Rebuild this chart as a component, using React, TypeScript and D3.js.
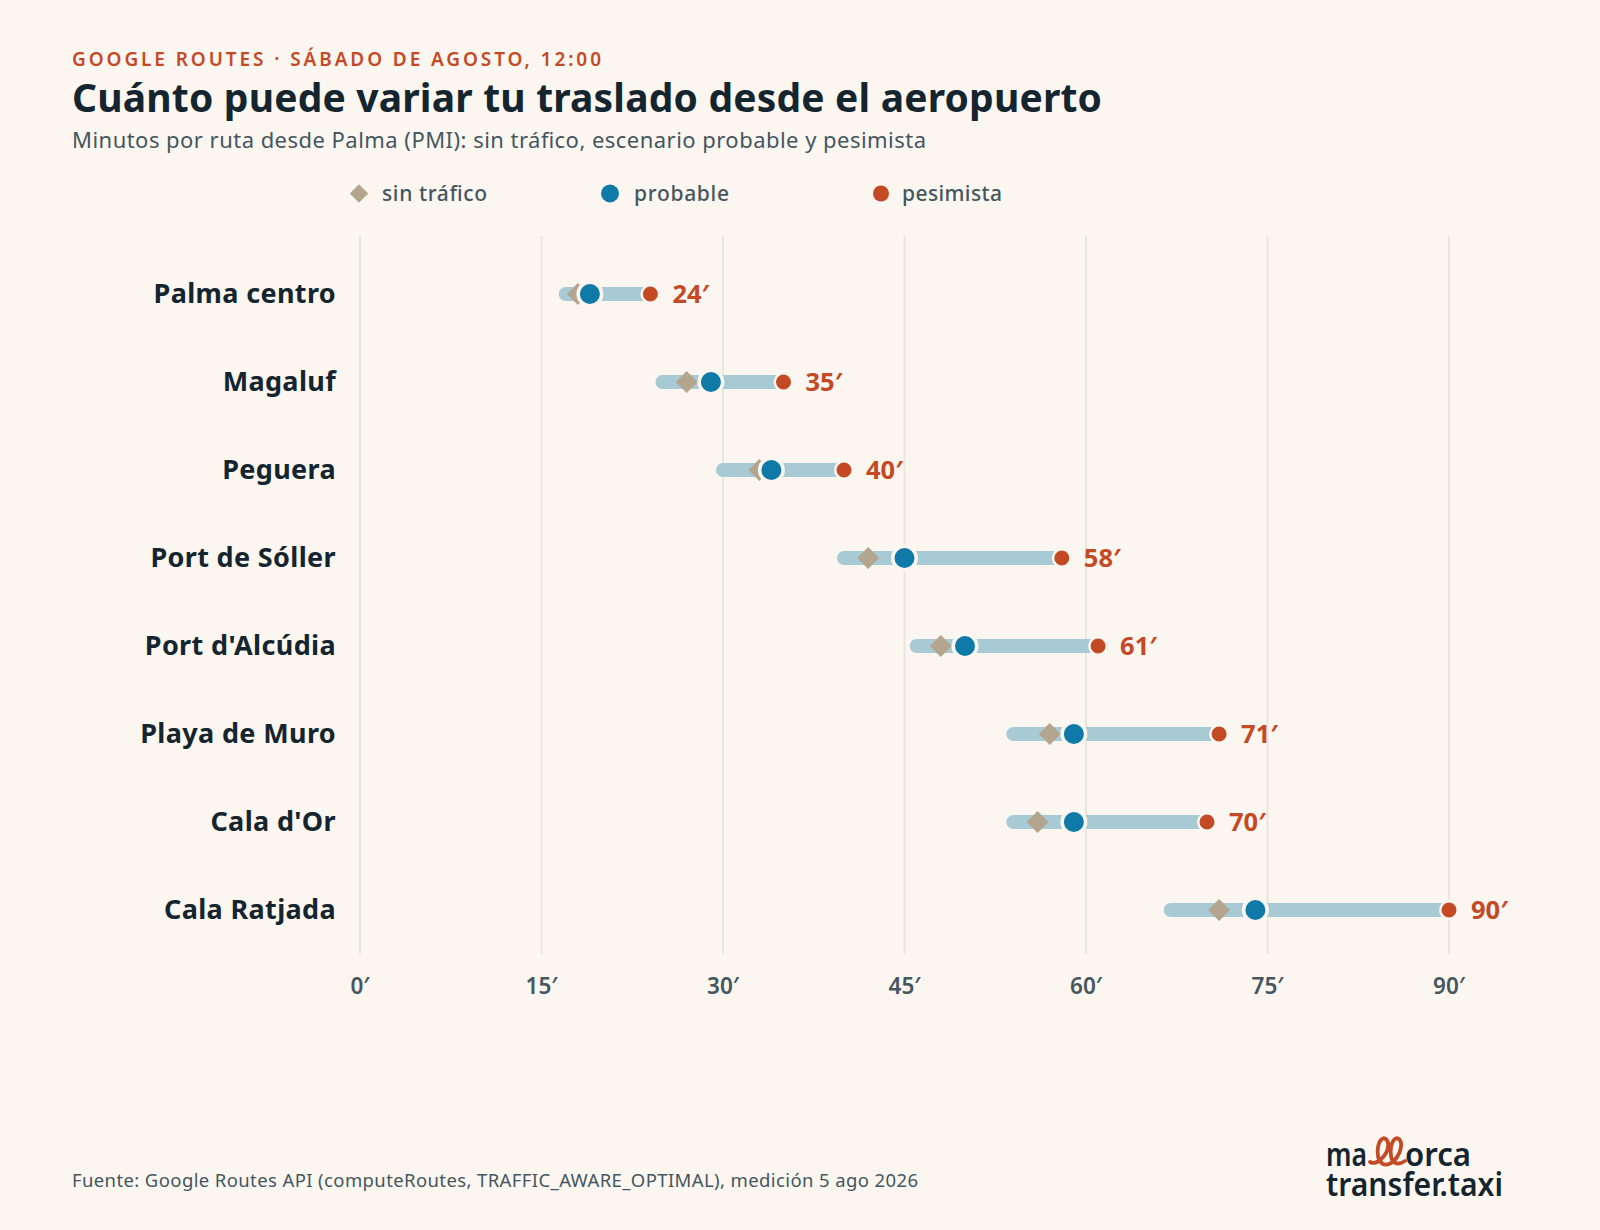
import React from "react";
import * as d3 from "d3";

const routes = ["Palma centro", "Magaluf", "Peguera", "Port de Sóller", "Port d'Alcúdia", "Playa de Muro", "Cala d'Or", "Cala Ratjada"];
const optimista = [17, 25, 30, 40, 46, 54, 54, 67];
const sinTrafico = [18, 27, 33, 42, 48, 57, 56, 71];
const probable = [19, 29, 34, 45, 50, 59, 59, 74];
const pesimista = [24, 35, 40, 58, 61, 71, 70, 90];
const ticks = [0, 15, 30, 45, 60, 75, 90];

const BG = "#fbf6f0", RED = "#c44a26", INK = "#15252f", GREY = "#45565f", BLUE = "#0f79a8", TAN = "#b3a58e", BAR = "#a8cad5", GRID = "#ebe6dc";
const FONT = "'Noto Sans', sans-serif";

const x = d3.scaleLinear().domain([0, 90]).range([360, 1449]);
const y = d3.scalePoint<string>().domain(routes).range([294, 910]);
const diamond = d3.symbol().type(d3.symbolSquare).size(238)();
const legendDiamond = d3.symbol().type(d3.symbolSquare).size(170)();

export default function App() {
  return (
    <svg width={1600} height={1230} style={{ position: "absolute", left: 0, top: 0, background: BG }} fontFamily={FONT}>
      <rect width={1600} height={1230} fill={BG} />
      <text x={72} y={66} fontSize={19} fontWeight={600} fill={RED} textLength={529}>GOOGLE ROUTES · SÁBADO DE AGOSTO, 12:00</text>
      <text x={72} y={112} fontSize={39} fontWeight={700} fill={INK} textLength={1030}>Cuánto puede variar tu traslado desde el aeropuerto</text>
      <text x={72} y={148} fontSize={22} fill={GREY} textLength={854}>Minutos por ruta desde Palma (PMI): sin tráfico, escenario probable y pesimista</text>

      <path d={legendDiamond!} transform="translate(359,193.5) rotate(45)" fill={TAN} />
      <text x={382} y={200.5} fontSize={21} fontWeight={500} fill={GREY} textLength={105}>sin tráfico</text>
      <circle cx={610} cy={193.5} r={9} fill={BLUE} />
      <text x={634} y={200.5} fontSize={21} fontWeight={500} fill={GREY} textLength={95}>probable</text>
      <circle cx={881} cy={193.5} r={8} fill={RED} />
      <text x={902} y={200.5} fontSize={21} fontWeight={500} fill={GREY} textLength={100}>pesimista</text>

      {ticks.map((t) => (
        <g key={t}>
          <line x1={x(t)} x2={x(t)} y1={236} y2={954} stroke={GRID} strokeWidth={2} />
          <text x={x(t)} y={994} textAnchor="middle" fontSize={22.5} fontWeight={600} fill={GREY}>{t}′</text>
        </g>
      ))}

      {routes.map((r, i) => {
        const cy = y(r)!;
        return (
          <g key={r}>
            <text x={336} y={cy + 9} textAnchor="end" fontSize={27} fontWeight={700} letterSpacing={0.35} fill={INK}>{r}</text>
            <line x1={x(optimista[i])} x2={x(pesimista[i])} y1={cy} y2={cy} stroke={BAR} strokeWidth={14} strokeLinecap="round" />
            <path d={diamond!} transform={`translate(${x(sinTrafico[i])},${cy}) rotate(45)`} fill={TAN} />
            <circle cx={x(probable[i])} cy={cy} r={11.75} fill={BLUE} stroke={BG} strokeWidth={3.5} />
            <circle cx={x(pesimista[i])} cy={cy} r={8.75} fill={RED} stroke={BG} strokeWidth={2.5} />
            <text x={x(pesimista[i]) + 22} y={cy + 9} fontSize={25.5} fontWeight={700} fill={RED}>{pesimista[i]}′</text>
          </g>
        );
      })}

      <text x={72} y={1187} fontSize={18.5} fill={GREY} textLength={846}>Fuente: Google Routes API (computeRoutes, TRAFFIC_AWARE_OPTIMAL), medición 5 ago 2026</text>

      <g fontSize={32} fontWeight={600} fill={INK}>
        <text x={1326} y={1166} textLength={41} lengthAdjust="spacingAndGlyphs">ma</text>
        <text x={1405} y={1166} textLength={66} lengthAdjust="spacingAndGlyphs">orca</text>
        <text x={1326} y={1196} textLength={177} lengthAdjust="spacingAndGlyphs">transfer.taxi</text>
      </g>
      <path d="M1370 1162 C1377 1166 1387 1155 1388 1147 C1389 1139 1384 1137 1382 1139 C1378 1142 1377 1150 1378 1156 C1379 1163 1384 1166 1389 1164 C1395 1162 1400 1154 1401 1147 C1402 1139 1397 1137 1395 1139 C1391 1142 1390 1150 1391 1156 C1392 1163 1397 1166 1405 1161"
        fill="none" stroke={RED} strokeWidth={3.8} strokeLinecap="round" />
    </svg>
  );
}
